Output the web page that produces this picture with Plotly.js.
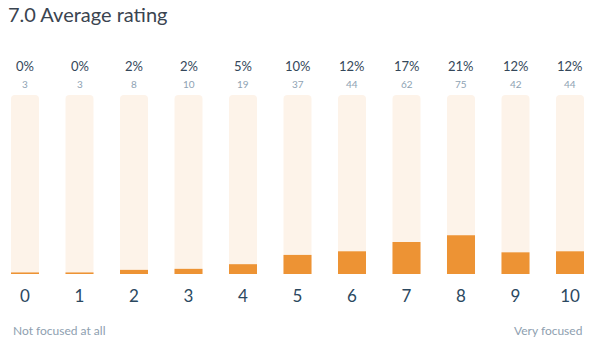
<!DOCTYPE html>
<html>
<head>
<meta charset="utf-8">
<script src="https://cdn.plot.ly/plotly-3.0.1.min.js"></script>
<style>html,body{margin:0;padding:0;background:#fff;}#chart{width:600px;height:358px;}</style>
</head>
<body>
<div id="chart"></div>
<script>
const categories = ['0','1','2','3','4','5','6','7','8','9','10'];
const counts = [3, 3, 8, 10, 19, 37, 44, 62, 75, 42, 44];
const pctLabels = ['0%','0%','2%','2%','5%','10%','12%','17%','21%','12%','12%'];
const titleText = '7.0 Average rating';
const leftLabel = 'Not focused at all';
const rightLabel = 'Very focused';

const total = counts.reduce((a, b) => a + b, 0);
const xs = categories.map((c, i) => i);
const FONT = 'Lato, "Open Sans", sans-serif';

const bg = {
  type: 'bar', x: xs, y: categories.map(() => total),
  marker: {color: '#fdf3e9'}, width: 0.514, hoverinfo: 'skip', showlegend: false
};
const fg = {
  type: 'bar', x: xs, y: counts,
  marker: {color: '#ed9334'}, width: 0.514, showlegend: false
};

const annotations = [];
xs.forEach((x, i) => {
  annotations.push({x: x, y: 1.162, xref: 'x', yref: 'paper', yanchor: 'middle', text: pctLabels[i], showarrow: false,
    font: {family: FONT, size: 13, color: '#34475a'}});
  annotations.push({x: x, y: 1.061, xref: 'x', yref: 'paper', yanchor: 'middle', text: String(counts[i]), showarrow: false,
    font: {family: FONT, size: 10, color: '#8ea2b3'}});
});
annotations.push({x: 11/600, y: -0.313, xref: 'paper', yref: 'paper', xanchor: 'left', yanchor: 'middle',
  text: leftLabel, showarrow: false, font: {family: FONT, size: 12, color: '#8ea0b0'}});
annotations.push({x: 584/600, y: -0.313, xref: 'paper', yref: 'paper', xanchor: 'right', yanchor: 'middle',
  text: rightLabel, showarrow: false, font: {family: FONT, size: 12, color: '#8ea0b0'}});

const layout = {
  width: 600, height: 358,
  margin: {l: 0, r: 0, t: 95, b: 84, pad: 0},
  paper_bgcolor: '#fff', plot_bgcolor: '#fff',
  barmode: 'overlay', barcornerradius: 4,
  title: {text: titleText, x: 8/600, xref: 'container', xanchor: 'left', y: 1 - 15/358, yref: 'container', yanchor: 'middle',
    font: {family: FONT, size: 20, color: '#3a4450'}},
  xaxis: {range: [-25/54.5, 575/54.5], tickmode: 'array', tickvals: xs, ticktext: categories,
    showgrid: false, zeroline: false, showline: false, ticks: '', ticklabelstandoff: 10,
    tickfont: {family: FONT, size: 17, color: '#2b4860'}, fixedrange: true},
  yaxis: {range: [0, total], visible: false, showgrid: false, zeroline: false, fixedrange: true},
  annotations: annotations,
  showlegend: false
};

Plotly.newPlot('chart', [bg, fg], layout, {displayModeBar: false, staticPlot: true});
</script>
</body>
</html>
